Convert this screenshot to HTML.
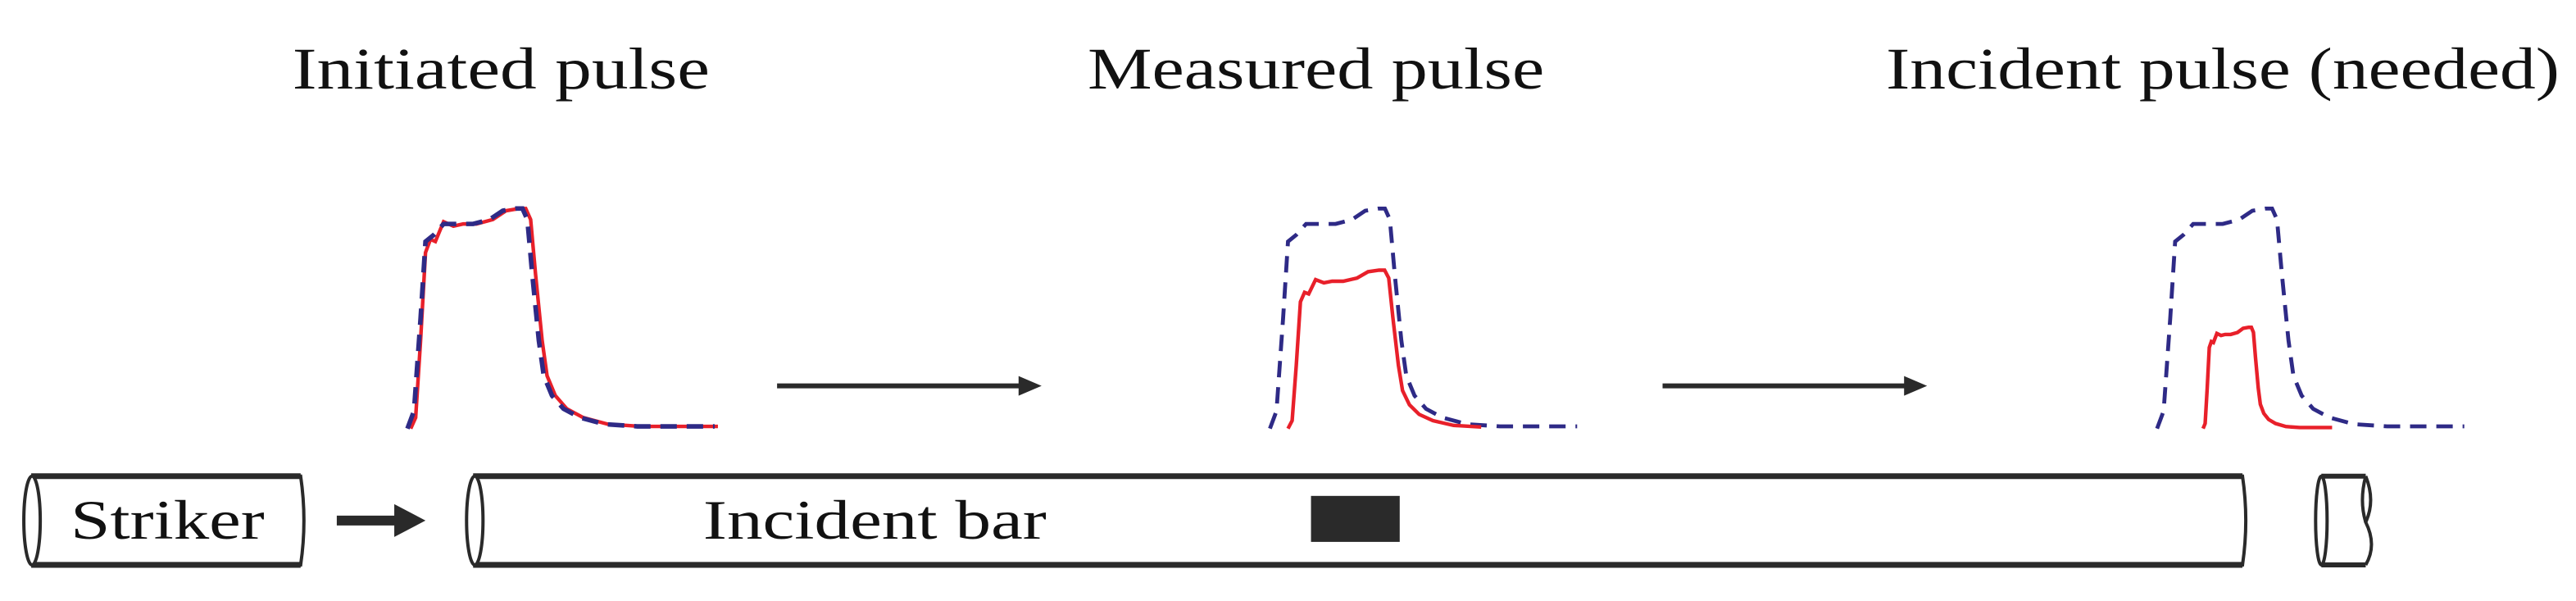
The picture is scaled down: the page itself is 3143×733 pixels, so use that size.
<!DOCTYPE html>
<html><head><meta charset="utf-8"><style>
html,body{margin:0;padding:0;background:#fff;}
svg{display:block;}
text{font-family:"Liberation Serif",serif;fill:#111;}
</style></head><body>
<svg id="fig" width="3143" height="733" viewBox="0 0 1568 366" preserveAspectRatio="none" xmlns="http://www.w3.org/2000/svg">
<rect width="1568" height="366" fill="#fff"/>
<text x="178" y="54" font-size="36" textLength="254" lengthAdjust="spacingAndGlyphs">Initiated pulse</text>
<text x="662" y="54" font-size="36" textLength="278" lengthAdjust="spacingAndGlyphs">Measured pulse</text>
<text x="1148" y="54" font-size="36" textLength="410" lengthAdjust="spacingAndGlyphs">Incident pulse (needed)</text>

<g id="pulses"></g>

<g>
<line x1="473" y1="235" x2="624" y2="235" stroke="#2a2a2a" stroke-width="3"/>
<polygon points="620,229 634,235 620,241" fill="#2a2a2a"/>
</g>
<g>
<line x1="1012" y1="235" x2="1163" y2="235" stroke="#2a2a2a" stroke-width="3"/>
<polygon points="1159,229 1173,235 1159,241" fill="#2a2a2a"/>
</g>

<g>
<path d="M19,290 L183,290 Q187,317 183,344 L19,344" fill="#fff" stroke="#2a2a2a" stroke-width="2"/>
<line x1="19" y1="290" x2="183" y2="290" stroke="#2a2a2a" stroke-width="3.5"/>
<line x1="19" y1="344" x2="183" y2="344" stroke="#2a2a2a" stroke-width="3.5"/>
<ellipse cx="19.5" cy="317" rx="5" ry="27" fill="#fff" stroke="#2a2a2a" stroke-width="2"/>
<text x="43" y="328" font-size="34" textLength="118" lengthAdjust="spacingAndGlyphs">Striker</text>
</g>
<g>
<line x1="205" y1="317" x2="245" y2="317" stroke="#2a2a2a" stroke-width="6"/>
<polygon points="240,307 259,317 240,327" fill="#2a2a2a"/>
</g>
<g>
<path d="M288,290 L1365,290 Q1369,317 1365,344 L288,344" fill="#fff" stroke="#2a2a2a" stroke-width="2"/>
<line x1="288" y1="290" x2="1365" y2="290" stroke="#2a2a2a" stroke-width="3.5"/>
<line x1="288" y1="344" x2="1365" y2="344" stroke="#2a2a2a" stroke-width="3.5"/>
<ellipse cx="289" cy="317" rx="5" ry="27" fill="#fff" stroke="#2a2a2a" stroke-width="2"/>
<text x="428" y="328" font-size="34" textLength="209" lengthAdjust="spacingAndGlyphs">Incident bar</text>
<rect x="798" y="302" width="54" height="28" fill="#2a2a2a"/>
</g>
<g>
<line x1="1413" y1="290" x2="1440" y2="290" stroke="#2a2a2a" stroke-width="3"/>
<line x1="1413" y1="344" x2="1440" y2="344" stroke="#2a2a2a" stroke-width="3"/>
<ellipse cx="1413" cy="317" rx="3.5" ry="27" fill="none" stroke="#2a2a2a" stroke-width="2"/>
<path d="M1440,290 Q1446,305 1440,318 Q1447,332 1440,344" fill="none" stroke="#2a2a2a" stroke-width="2"/>
<path d="M1440,290 Q1436,305 1440,318" fill="none" stroke="#2a2a2a" stroke-width="2"/>
</g>
</svg>
<script>
// Shared pulse shape (time offset in display px, normalized amplitude)
const blueT = [0,4,8,11,16,22,30,40,50,58,66,70,73,76,80,83,88,95,105,120,140,187];
const blueV = [0,0.08,0.5,0.85,0.88,0.93,0.93,0.93,0.95,0.99,1.0,1.0,0.95,0.7,0.4,0.24,0.15,0.09,0.05,0.02,0.01,0.01];
const redT = [0,3,6,9,12,15,20,26,32,40,50,58,66,70,73,76,80,83,88,95,105,120,140,187];
const redV = [0,0.05,0.4,0.8,0.86,0.85,0.94,0.92,0.93,0.93,0.95,0.99,1.0,1.0,0.95,0.7,0.4,0.24,0.15,0.09,0.05,0.02,0.01,0.01];
// Per panel: start x, red shift, red time scale, red amplitude, red time cutoff
const panelStart = [248, 773, 1313];
const redShift = [2, 11, 28];
const redScale = [1.0, 0.84, 0.42];
const redAmp = [1.0, 0.72, 0.46];
const redCut = [187, 160, 187];
const baseY = 261, ampPx = 134;
const NS = 'http://www.w3.org/2000/svg';
const g = document.getElementById('pulses');
function yS(v){ return baseY - v*ampPx; }
for (let p = 0; p < panelStart.length; p++) {
  const x0 = panelStart[p];
  let d = '';
  blueT.forEach((t,i)=>{ d += (i?'L':'M') + (x0+t) + ',' + yS(blueV[i]); });
  const b = document.createElementNS(NS,'path');
  b.setAttribute('d', d);
  b.setAttribute('fill','none');
  b.setAttribute('stroke','#2e2a86');
  b.setAttribute('stroke-width', p===0 ? '2.8' : '2.4');
  b.setAttribute('stroke-dasharray','10,6');
  
  
  let rd = '';
  let first = true;
  redT.forEach((t,i)=>{
    if (t > redCut[p]) return;
    rd += (first?'M':'L') + (x0 + redShift[p] + t*redScale[p]) + ',' + yS(redV[i]*redAmp[p]);
    first = false;
  });
  const r = document.createElementNS(NS,'path');
  r.setAttribute('d', rd);
  r.setAttribute('fill','none');
  r.setAttribute('stroke','#e8202a');
  r.setAttribute('stroke-width','2.2');
  
  
  if (p === 0) { g.appendChild(r); g.appendChild(b); }
  else { g.appendChild(b); g.appendChild(r); }
}
</script>
</body></html>
